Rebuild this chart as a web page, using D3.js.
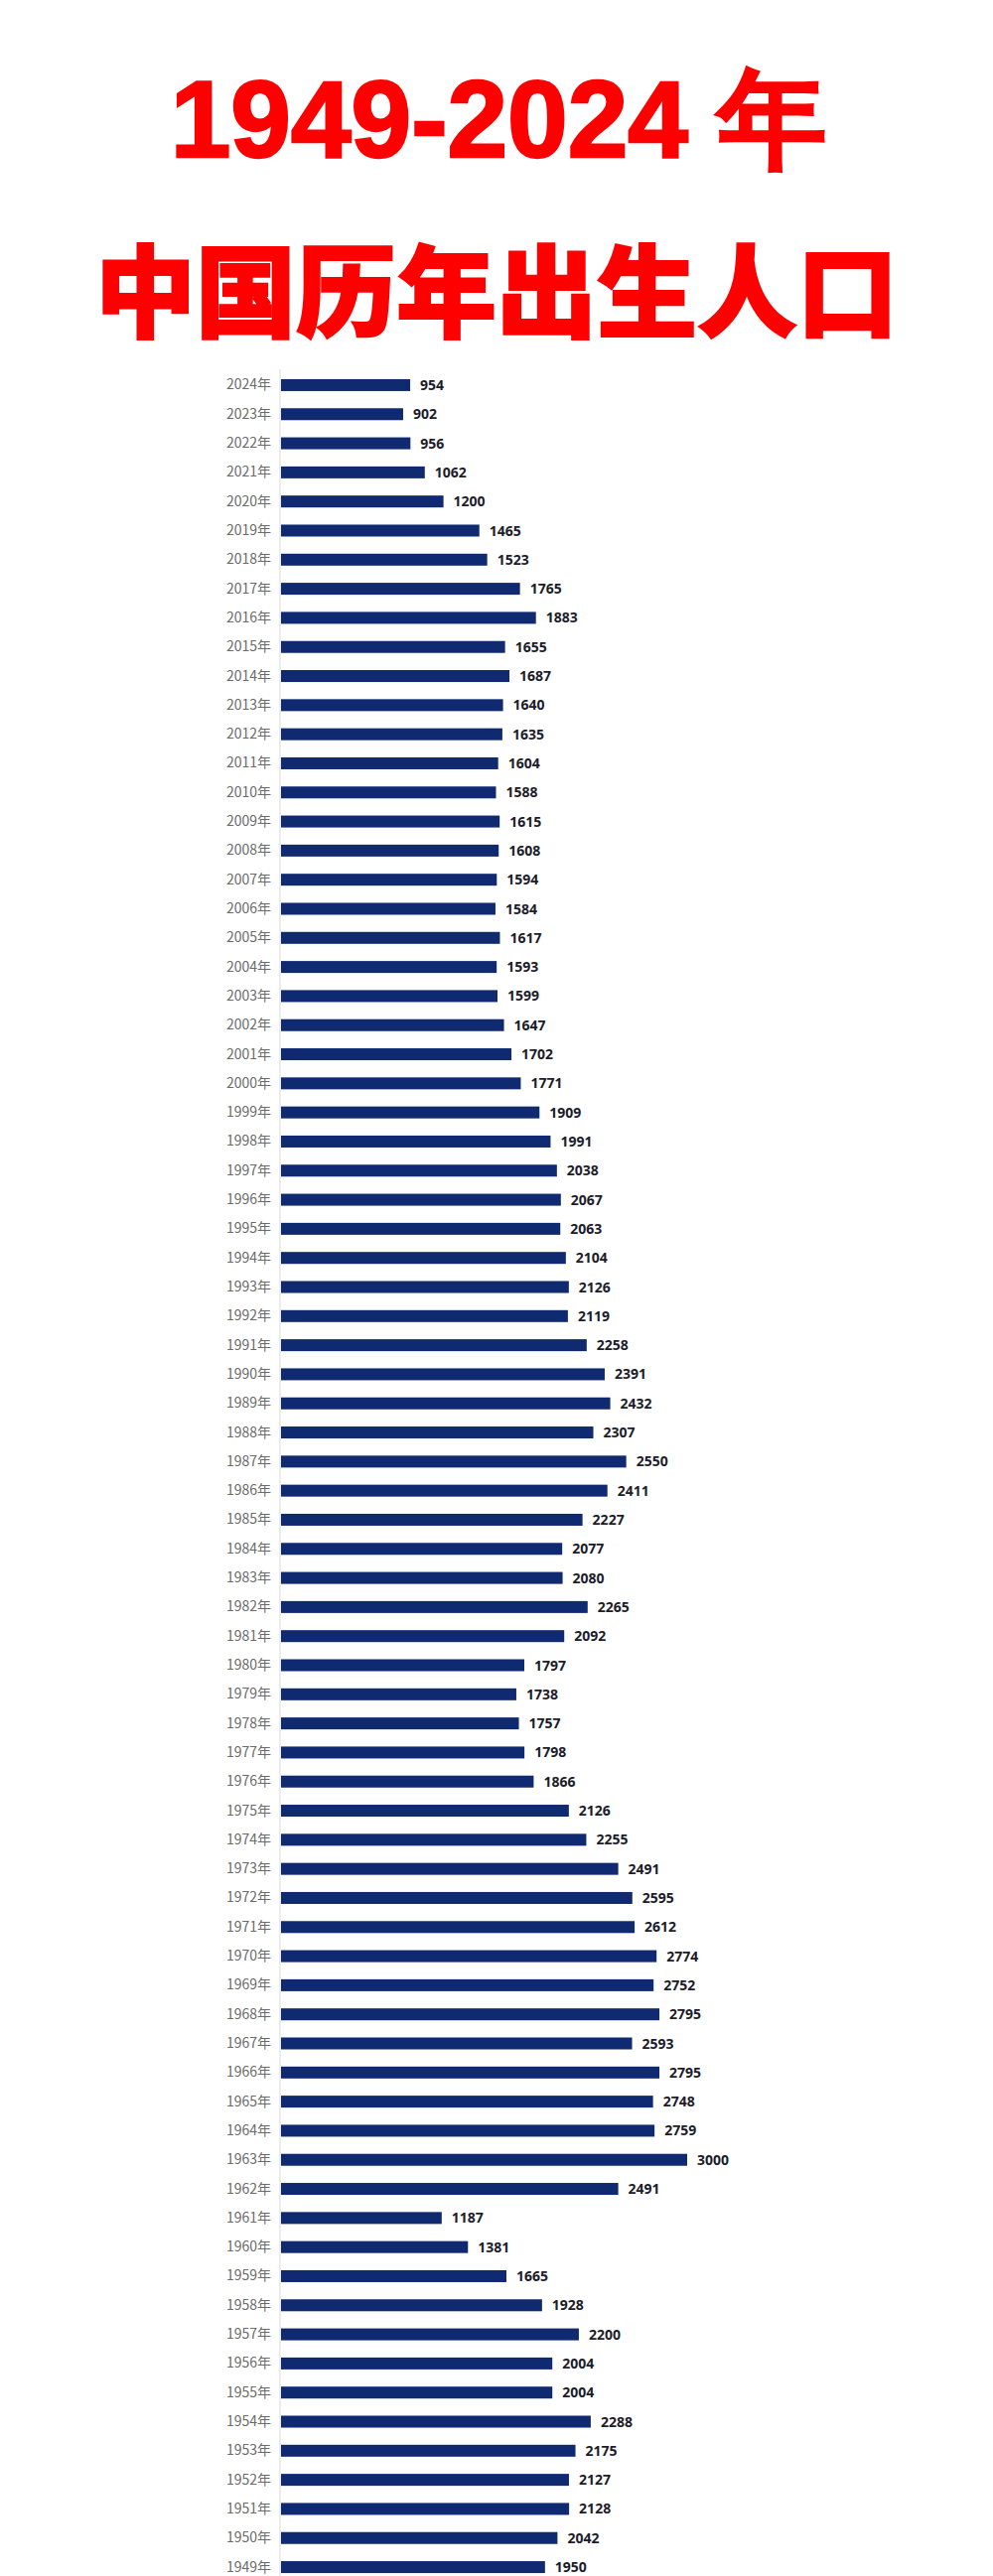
<!DOCTYPE html>
<html>
<head>
<meta charset="utf-8">
<script src="https://cdn.jsdelivr.net/npm/d3@7"></script>
<style>
  body { margin: 0; background: #fff; }
  svg { display: block; }
</style>
</head>
<body>
<script>
var SIZE = { width: 1000, height: 2595 };

var title1 = '1949-2024 年';
var title2 = '中国历年出生人口';

var years = [2024, 2023, 2022, 2021, 2020, 2019, 2018, 2017, 2016, 2015,
	2014, 2013, 2012, 2011, 2010, 2009, 2008, 2007, 2006, 2005,
	2004, 2003, 2002, 2001, 2000, 1999, 1998, 1997, 1996, 1995,
	1994, 1993, 1992, 1991, 1990, 1989, 1988, 1987, 1986, 1985,
	1984, 1983, 1982, 1981, 1980, 1979, 1978, 1977, 1976, 1975,
	1974, 1973, 1972, 1971, 1970, 1969, 1968, 1967, 1966, 1965,
	1964, 1963, 1962, 1961, 1960, 1959, 1958, 1957, 1956, 1955,
	1954, 1953, 1952, 1951, 1950, 1949];

// births, ten thousand people
var births = [954, 902, 956, 1062, 1200, 1465, 1523, 1765, 1883, 1655,
	1687, 1640, 1635, 1604, 1588, 1615, 1608, 1594, 1584, 1617,
	1593, 1599, 1647, 1702, 1771, 1909, 1991, 2038, 2067, 2063,
	2104, 2126, 2119, 2258, 2391, 2432, 2307, 2550, 2411, 2227,
	2077, 2080, 2265, 2092, 1797, 1738, 1757, 1798, 1866, 2126,
	2255, 2491, 2595, 2612, 2774, 2752, 2795, 2593, 2795, 2748,
	2759, 3000, 2491, 1187, 1381, 1665, 1928, 2200, 2004, 2004,
	2288, 2175, 2127, 2128, 2042, 1950];

var rows = years.map(function (y, i) { return { year: y, value: births[i] }; });

var svg = d3.select('body').append('svg')
	.attr('width', SIZE.width)
	.attr('height', SIZE.height);

// title
svg.append('text')
	.attr('x', 502).attr('y', 158)
	.attr('text-anchor', 'middle')
	.attr('font-family', 'Liberation Sans, Arial, sans-serif')
	.attr('font-weight', 'bold')
	.attr('font-size', 109)
	.attr('fill', '#ff0000')
	.attr('stroke', '#ff0000').attr('stroke-width', 2.5)
	.text(title1);

svg.append('text')
	.attr('x', 500).attr('y', 332)
	.attr('text-anchor', 'middle')
	.attr('font-family', 'Noto Sans CJK SC, sans-serif')
	.attr('font-weight', 900)
	.attr('font-size', 101)
	.attr('fill', '#ff0000')
	.attr('stroke', '#ff0000').attr('stroke-width', 2)
	.text(title2);

// chart
var x = d3.scaleLinear().domain([0, 3000]).range([283, 692]);
var y = d3.scaleBand()
	.domain(years)
	.range([373.3, 2600.7])
	.paddingInner(0.59)
	.paddingOuter(0.295);

svg.append('line')
	.attr('x1', x(0) - 1).attr('x2', x(0) - 1)
	.attr('y1', 372).attr('y2', SIZE.height)
	.attr('stroke', '#e6e6e6').attr('stroke-width', 1.5);

var yAxis = d3.axisLeft(y)
	.tickSize(0)
	.tickPadding(10)
	.tickFormat(function (d) { return d + '年'; });

var axisG = svg.append('g')
	.attr('transform', 'translate(' + x(0) + ',0)')
	.call(yAxis);
axisG.select('.domain').remove();
axisG.selectAll('text')
	.attr('font-family', 'Noto Sans CJK SC, Noto Sans, sans-serif')
	.attr('font-size', 14)
	.attr('fill', '#6b6b6b');

var bars = svg.selectAll('g.row')
	.data(rows)
	.enter()
	.append('g')
	.classed('row', true);

bars.append('rect')
	.attr('x', x(0))
	.attr('y', function (d) { return y(d.year); })
	.attr('width', function (d) { return x(d.value) - x(0); })
	.attr('height', y.bandwidth())
	.attr('fill', '#0f2a70');

bars.append('text')
	.attr('x', function (d) { return x(d.value) + 10; })
	.attr('y', function (d) { return y(d.year) + y.bandwidth() / 2; })
	.attr('dy', '0.36em')
	.attr('font-family', 'Noto Sans, sans-serif')
	.attr('font-weight', 'bold')
	.attr('font-size', 14)
	.attr('fill', '#1c1c2a')
	.text(function (d) { return d.value; });
</script>
</body>
</html>
